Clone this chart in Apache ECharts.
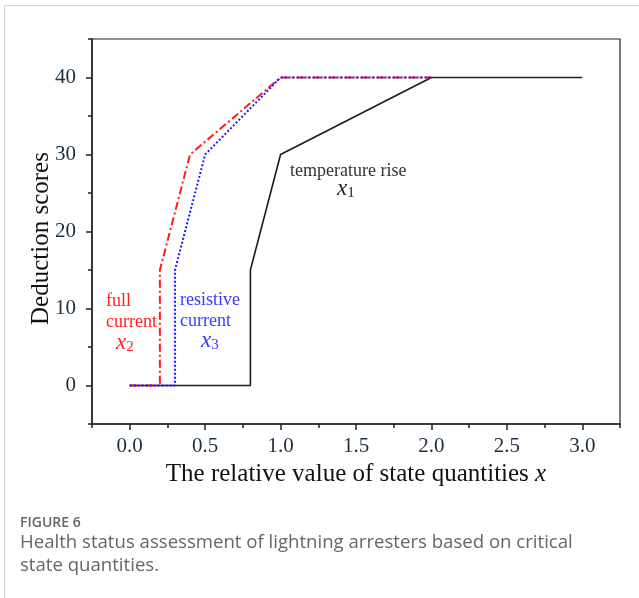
<!DOCTYPE html>
<html><head><meta charset="utf-8">
<script src="https://cdn.jsdelivr.net/npm/echarts@6/dist/echarts.min.js"></script>
<style>
html,body{margin:0;padding:0;background:#fff;}
#wrap{position:relative;width:639px;height:598px;overflow:hidden;}
#card{position:absolute;left:4px;top:5px;width:660px;height:620px;border-left:1px solid #d0d0d0;border-top:1px solid #d0d0d0;}
#chart{position:absolute;left:0;top:0;width:639px;height:598px;}
.cap{position:absolute;left:20px;font-family:"Open Sans","Noto Sans",sans-serif;color:#5a5a5a;white-space:nowrap;}
</style></head>
<body><div id="wrap"><div id="card"></div><div id="chart"></div>
<div class="cap" style="top:512px;font-size:14px;font-weight:600;color:#666;">FIGURE 6</div>
<div class="cap" style="top:529px;font-size:18.6px;line-height:23px;color:#666;">Health status assessment of lightning arresters based on critical<br>state quantities.</div>
</div>
<script>
// data
const tempX = [0, 0.8, 0.8, 1.0, 2.0, 3.0];
const tempY = [0, 0, 15, 30, 40, 40];
const fullX = [0, 0.2, 0.2, 0.4, 1.0, 2.0];
const fullY = [0, 0, 15, 30, 40, 40];
const resX = [0, 0.3, 0.3, 0.5, 1.0, 2.0];
const resY = [0, 0, 15, 30, 40, 40];
const xMajor = [0, 0.5, 1.0, 1.5, 2.0, 2.5, 3.0];
const xMinor = [-0.25, 0.25, 0.75, 1.25, 1.75, 2.25, 2.75, 3.25];
const yMajor = [0, 10, 20, 30, 40];
const yMinor = [-5, 5, 15, 25, 35, 45];

const pair = (xs, ys) => xs.map((x, i) => [x, ys[i]]);
const serif = '"Liberation Serif","DejaVu Serif",serif';
const chart = echarts.init(document.getElementById('chart'));
const axisLineStyle = {color: '#222', width: 1.5};
const labColor = '#1d2d40';
chart.setOption({
  animation: false,
  grid: {left: 92, right: 19, top: 39, bottom: 174, show: true, borderColor: '#222', borderWidth: 1.2},
  xAxis: [{
    type: 'value', min: -0.25, max: 3.25,
    axisLine: {show: true, onZero: false, lineStyle: axisLineStyle},
    axisTick: {show: true, customValues: xMajor, length: 6, lineStyle: {color: '#222', width: 1.5}},
    axisLabel: {customValues: xMajor, margin: 12, fontFamily: serif, fontSize: 21, color: labColor, formatter: v => v.toFixed(1)},
    splitLine: {show: false},
    name: '{n|The relative value of state quantities }{i|x}', nameLocation: 'middle', nameGap: 38,
    nameTextStyle: {rich: {n: {fontFamily: serif, fontSize: 25, color: '#111'}, i: {fontFamily: serif, fontSize: 25, fontStyle: 'italic', color: '#111'}}}
  }, {
    type: 'value', min: -0.25, max: 3.25, position: 'bottom',
    axisLine: {show: false, onZero: false},
    axisTick: {show: true, customValues: xMinor, length: 4, lineStyle: {color: '#222', width: 1.5}},
    axisLabel: {show: false}, splitLine: {show: false}
  }],
  yAxis: [{
    type: 'value', min: -5, max: 45,
    axisLine: {show: true, onZero: false, lineStyle: axisLineStyle},
    axisTick: {show: true, customValues: yMajor, length: 6, lineStyle: {color: '#222', width: 1.5}},
    axisLabel: {customValues: yMajor, margin: 16, fontFamily: serif, fontSize: 21, color: labColor},
    splitLine: {show: false},
    name: 'Deduction scores', nameLocation: 'middle', nameGap: 38, nameMoveOverlap: false,
    nameTextStyle: {fontFamily: serif, fontSize: 25, color: '#111', padding: [0, 14, 0, 0]}
  }, {
    type: 'value', min: -5, max: 45, position: 'left',
    axisLine: {show: false, onZero: false},
    axisTick: {show: true, customValues: yMinor, length: 4, lineStyle: {color: '#222', width: 1.5}},
    axisLabel: {show: false}, splitLine: {show: false}
  }],
  series: [
    {type: 'line', name: 'temperature rise', data: pair(tempX, tempY), symbol: 'none',
     lineStyle: {color: '#1c1c1c', width: 1.6}},
    {type: 'line', name: 'full current', data: pair(fullX, fullY), symbol: 'none',
     lineStyle: {color: '#ff1a1a', width: 2, type: [8, 3, 2, 3]}},
    {type: 'line', name: 'resistive current', data: pair(resX, resY), symbol: 'none',
     lineStyle: {color: '#1a1aff', width: 2, type: [2, 2]}}
  ],
  graphic: [
    {type: 'text', left: 290, top: 162, style: {text: 'temperature rise', font: '18px ' + serif, fill: '#333'}},
    {type: 'text', left: 337, top: 177, style: {text: '{i|x}{s|1}', rich: {i: {fontFamily: serif, fontSize: 23, fontStyle: 'italic', fill: '#222'}, s: {fontFamily: serif, fontSize: 15, fill: '#222', padding: [10, 0, 0, 0]}}}},
    {type: 'text', left: 106, top: 292, style: {text: 'full', font: '18px ' + serif, fill: '#ff2020'}},
    {type: 'text', left: 106, top: 313, style: {text: 'current', font: '18px ' + serif, fill: '#ff2020'}},
    {type: 'text', left: 116, top: 331, style: {text: '{i|x}{s|2}', rich: {i: {fontFamily: serif, fontSize: 23, fontStyle: 'italic', fill: '#ff2020'}, s: {fontFamily: serif, fontSize: 15, fill: '#ff2020', padding: [10, 0, 0, 0]}}}},
    {type: 'text', left: 180, top: 291, style: {text: 'resistive', font: '18px ' + serif, fill: '#3a3aff'}},
    {type: 'text', left: 180, top: 312, style: {text: 'current', font: '18px ' + serif, fill: '#3a3aff'}},
    {type: 'text', left: 201, top: 329, style: {text: '{i|x}{s|3}', rich: {i: {fontFamily: serif, fontSize: 23, fontStyle: 'italic', fill: '#3a3aff'}, s: {fontFamily: serif, fontSize: 15, fill: '#3a3aff', padding: [10, 0, 0, 0]}}}}
  ]
});
</script></body></html>
